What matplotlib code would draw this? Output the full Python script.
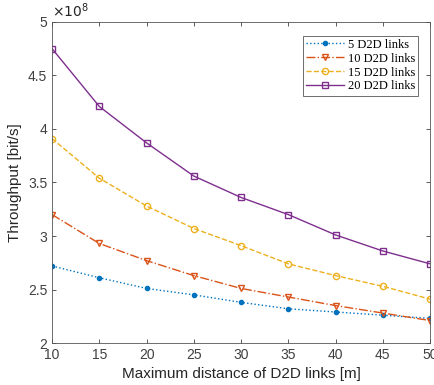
import numpy as np
import matplotlib.pyplot as plt
from matplotlib.ticker import FuncFormatter

# distance axis [m]
dist = [10, 15, 20, 25, 30, 35, 40, 45, 50]

# throughput [bit/s]
thr_5 = np.array([2.72, 2.61, 2.51, 2.45, 2.38, 2.32, 2.29, 2.26, 2.23]) * 1e8
thr_10 = np.array([3.20, 2.93, 2.77, 2.63, 2.51, 2.43, 2.35, 2.28, 2.21]) * 1e8
thr_15 = np.array([3.91, 3.54, 3.28, 3.07, 2.91, 2.74, 2.63, 2.53, 2.41]) * 1e8
thr_20 = np.array([4.75, 4.21, 3.87, 3.56, 3.36, 3.20, 3.01, 2.86, 2.74]) * 1e8

labels = ['5 D2D links', '10 D2D links', '15 D2D links', '20 D2D links']

plt.rcParams['font.family'] = ['Liberation Sans', 'DejaVu Sans']

fig = plt.figure(figsize=(4.34, 3.85), dpi=100)
ax = fig.add_axes([0.12, 0.109, 0.871, 0.834])

ax.plot(dist, thr_5, ':', color='#0072BD', marker='o', ms=3, mfc='#0072BD', lw=1.0, label=labels[0])
ax.plot(dist, thr_10, '-.', color='#D95319', marker='v', ms=4.5, mfc='none', lw=1.0, label=labels[1])
ax.plot(dist, thr_15, '--', color='#EDB120', marker='o', ms=4.5, mfc='none', lw=1.0, label=labels[2])
ax.plot(dist, thr_20, '-', color='#7E2F8E', marker='s', ms=4, mfc='none', lw=1.0, label=labels[3])

ax.set_xlim(10, 50)
ax.set_ylim(2e8, 5e8)
ax.set_xticks(dist)
ax.set_yticks(np.arange(2e8, 5.01e8, 0.5e8))
ax.yaxis.set_major_formatter(FuncFormatter(lambda v, p: '%g' % (v / 1e8)))
ax.tick_params(direction='in', top=True, right=True, labelsize=10, colors='#404040', length=3, width=0.6)
for s in ax.spines.values():
    s.set_color('#555555')
    s.set_linewidth(0.6)

ax.text(0.0, 1.005, r'$\times10^{8}$', transform=ax.transAxes, fontsize=10, color='#262626', va='bottom', ha='left')

ax.set_xlabel('Maximum distance of D2D links [m]', fontsize=11, color='#262626')
ax.set_ylabel('Throughput [bit/s]', fontsize=11, color='#262626')

leg = ax.legend(loc='upper right', bbox_to_anchor=(0.975, 0.965), prop={'family': 'Liberation Serif', 'size': 9},
                fancybox=False, edgecolor='#555555', framealpha=1, handlelength=3.0, borderpad=0.25,
                labelspacing=0.15, handletextpad=0.3, borderaxespad=0.2)
leg.get_frame().set_linewidth(0.6)

fig.savefig('out.png', dpi=100)
